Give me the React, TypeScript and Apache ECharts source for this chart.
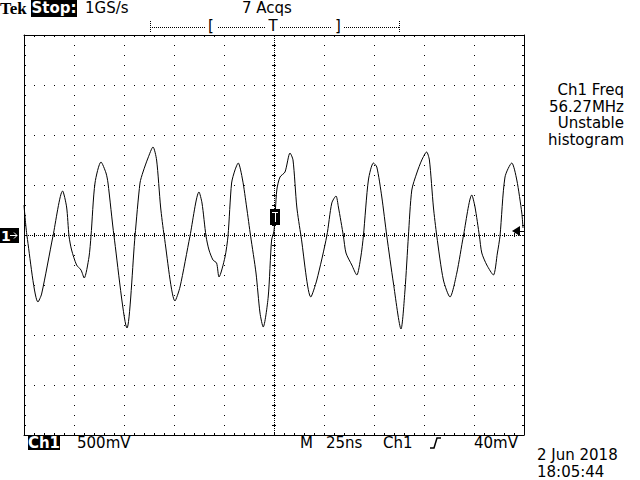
import React, { useEffect, useRef } from "react";
import * as echarts from "echarts";

// Time base: 25 ns/div, 10 divisions, trigger at centre
const timeNs = [
  -125, -123.5, -118, -116.2, -110.5, -105.7, -103.7, -102.5, -101.2, -98.7, -96.5, -94.9, -92.5, -91.5,
  -89.5, -86.5, -84, -83, -80, -73.5, -69.5, -67, -65.5, -63, -60.5, -58.7, -56.7, -54.9, -49.5, -47, -42,
  -37.5, -36, -34, -32.5, -30.5, -28.7, -27.5, -24.5, -23, -21.2, -19.5, -17.9, -15.7, -13.7, -11.7, -9, -7,
  -5.4, -2.9, -1.2, 0, 1.4, 3, 5.5, 8, 9.5, 11.4, 13.5, 18.4, 21.4, 26.4, 28.9, 31, 32.2, 34.7, 36, 38.9,
  41.4, 43.4, 44.7, 47.2, 49.7, 51.4, 53.9, 56.4, 59.7, 63.5, 65.5, 67.2, 68.9, 71.4, 73.9, 76.3, 77.7,
  79.7, 81.4, 84.7, 88, 91.4, 94.7, 98.9, 100.5, 102.7, 103.9, 106.4, 109.7, 111.7, 113, 115.5, 118.9,
  121.4, 123.9, 124.5,
];
// Channel 1 voltage, 500 mV/div
const ch1mV = [
  300, -10, -670, -590, -10, 440, 280, -10, -150, -300, -350, -430, -220, -10, 520, 730, 620, 520, -10, -930,
  -10, 520, 630, 770, 880, 750, 280, -10, -660, -520, -10, 430, 320, -10, -150, -250, -280, -420, -220, -10,
  520, 650, 720, 550, 280, -10, -380, -780, -920, -620, -50, 40, 450, 580, 630, 820, 750, 280, -10, -620,
  -450, -10, 320, 390, 280, -10, -180, -300, -400, -220, -10, 550, 720, 680, 380, -10, -480, -940, -550, -10,
  450, 620, 750, 830, 750, 280, -10, -450, -620, -380, -10, 400, 280, -10, -180, -300, -400, -180, -10, 580,
  720, 550, 220, 70,
];

const headerTexts = ["Tek", "Stop:", "1GS/s", "7 Acqs"];
const measureTexts = ["Ch1 Freq", "56.27MHz", "Unstable", "histogram"];
const footerTexts = ["Ch1", "500mV", "M", "25ns", "Ch1", "40mV"];
const dateTexts = ["2 Jun 2018", "18:05:44"];

const X_MIN = -125;
const X_MAX = 125;
const Y_MIN = -2000;
const Y_MAX = 2000;

const FONT = "DejaVu Sans";

export default function App() {
  const ref = useRef<HTMLDivElement>(null);

  useEffect(() => {
    if (!ref.current) return;
    const chart = echarts.init(ref.current, null, { renderer: "svg" });
    const black = "#000";
    const gridRect = { left: 24, top: 35, width: 500, height: 400 };

    const baseX = {
      type: "value" as const,
      min: X_MIN,
      max: X_MAX,
      interval: 25,
      axisLabel: { show: false },
      splitLine: { show: false },
    };
    const baseY = {
      type: "value" as const,
      min: Y_MIN,
      max: Y_MAX,
      interval: 500,
      axisLabel: { show: false },
      splitLine: { show: false },
    };
    const tick = (inside: boolean, len: number) => ({
      axisTick: { show: true, inside, length: len, lineStyle: { color: black, width: 1 } },
      minorTick: { show: true, splitNumber: 5, length: len, lineStyle: { color: black, width: 1 } },
    });

    const txt = (text: string, x: number, y: number, opts: any = {}) => ({
      type: "text",
      x,
      y,
      silent: true,
      style: {
        text,
        fill: opts.fill || black,
        font: opts.font || `15px "${FONT}"`,
        align: opts.align || "left",
        verticalAlign: "middle",
      },
      z: 100,
    });

    const option: any = {
      animation: false,
      backgroundColor: "#fff",
      grid: [
        { ...gridRect, show: false },
        { ...gridRect, show: false },
        { ...gridRect, show: false },
      ],
      xAxis: [
        {
          ...baseX,
          gridIndex: 0,
          position: "bottom",
          axisLine: { show: true, onZero: false, lineStyle: { color: black, width: 1 } },
          ...tick(true, 2),
          splitLine: { show: true, lineStyle: { color: black, width: 1, type: [1, 9] } },
        },
        {
          ...baseX,
          gridIndex: 0,
          position: "top",
          axisLine: { show: true, onZero: false, lineStyle: { color: black, width: 1 } },
          ...tick(true, 2),
        },
        {
          ...baseX,
          gridIndex: 1,
          position: "bottom",
          axisLine: { show: false, onZero: true },
          ...tick(true, 2),
        },
        {
          ...baseX,
          gridIndex: 2,
          position: "bottom",
          axisLine: { show: false, onZero: true },
          ...tick(false, 2),
        },
      ],
      yAxis: [
        {
          ...baseY,
          gridIndex: 0,
          position: "left",
          axisLine: { show: true, onZero: false, lineStyle: { color: black, width: 1 } },
          ...tick(true, 2),
          splitLine: { show: true, lineStyle: { color: black, width: 1, type: [1, 9] } },
        },
        {
          ...baseY,
          gridIndex: 0,
          position: "right",
          axisLine: { show: true, onZero: false, lineStyle: { color: black, width: 1 } },
          ...tick(true, 2),
        },
        {
          ...baseY,
          gridIndex: 1,
          position: "left",
          axisLine: { show: false, onZero: true },
          ...tick(true, 2),
        },
        {
          ...baseY,
          gridIndex: 2,
          position: "left",
          axisLine: { show: false, onZero: true },
          ...tick(false, 2),
        },
      ],
      series: [
        {
          type: "line",
          xAxisIndex: 0,
          yAxisIndex: 0,
          data: timeNs.map((t, i) => [t, ch1mV[i]]),
          showSymbol: false,
          smooth: 0.25,
          lineStyle: { color: black, width: 1 },
          z: 10,
          markLine: {
            silent: true,
            symbol: "none",
            label: { show: false },
            lineStyle: { color: black, width: 1, type: [1, 1] },
            emphasis: { disabled: true },
            data: [{ xAxis: 0 }, { yAxis: 0 }],
          },
        },
      ],
      graphic: [
        // header
        txt(headerTexts[0], 0, 8, { font: `bold 17px "Liberation Serif"` }),
        { type: "rect", shape: { x: 31, y: 0, width: 46, height: 17 }, style: { fill: black }, z: 99 },
        txt(headerTexts[1], 54, 8, { fill: "#fff", font: `bold 15px "${FONT}"`, align: "center" }),
        txt(headerTexts[2], 85, 8),
        txt(headerTexts[3], 267, 8, { align: "center" }),
        // trigger position bar
        { type: "line", shape: { x1: 150, y1: 27.5, x2: 400, y2: 27.5 }, style: { stroke: black, lineWidth: 1, lineDash: [1, 1] }, z: 99 },
        { type: "line", shape: { x1: 150.5, y1: 21, x2: 150.5, y2: 33 }, style: { stroke: black, lineWidth: 1, lineDash: [1, 1] }, z: 99 },
        { type: "line", shape: { x1: 399.5, y1: 21, x2: 399.5, y2: 33 }, style: { stroke: black, lineWidth: 1, lineDash: [1, 1] }, z: 99 },
        { type: "rect", shape: { x: 205, y: 19, width: 12, height: 16 }, style: { fill: "#fff" }, z: 99 },
        { type: "rect", shape: { x: 266, y: 19, width: 14, height: 16 }, style: { fill: "#fff" }, z: 99 },
        { type: "rect", shape: { x: 332, y: 19, width: 12, height: 16 }, style: { fill: "#fff" }, z: 99 },
        txt("[", 211, 26, { align: "center" }),
        txt("T", 273, 26, { align: "center" }),
        txt("]", 338, 26, { align: "center" }),
        // measurement readout
        txt(measureTexts[0], 624, 90, { align: "right" }),
        txt(measureTexts[1], 624, 106.5, { align: "right" }),
        txt(measureTexts[2], 624, 123, { align: "right" }),
        txt(measureTexts[3], 624, 139.5, { align: "right" }),
        // ground marker "1→"
        { type: "rect", shape: { x: 0, y: 228, width: 19, height: 15 }, style: { fill: black }, z: 99 },
        txt("1", 1, 235.5, { fill: "#fff", font: `bold 14px "${FONT}"` }),
        { type: "line", shape: { x1: 10, y1: 235.5, x2: 17, y2: 235.5 }, style: { stroke: "#fff", lineWidth: 1 }, z: 100 },
        { type: "polyline", shape: { points: [[14, 232.5], [17, 235.5], [14, 238.5]] }, style: { stroke: "#fff", lineWidth: 1, fill: null }, z: 100 },
        // trigger T marker
        { type: "rect", shape: { x: 270, y: 209, width: 10, height: 16 }, style: { fill: black }, z: 99 },
        { type: "line", shape: { x1: 272, y1: 212.5, x2: 278, y2: 212.5 }, style: { stroke: "#fff", lineWidth: 1 }, z: 100 },
        { type: "line", shape: { x1: 275.5, y1: 212, x2: 275.5, y2: 222 }, style: { stroke: "#fff", lineWidth: 1 }, z: 100 },
        // trigger level arrow
        { type: "polygon", shape: { points: [[512, 231], [520, 226], [520, 236]] }, style: { fill: black }, z: 99 },
        { type: "line", shape: { x1: 520, y1: 231.5, x2: 525, y2: 231.5 }, style: { stroke: black, lineWidth: 1 }, z: 99 },
        // footer
        { type: "rect", shape: { x: 28, y: 435, width: 32, height: 15 }, style: { fill: black }, z: 99 },
        txt(footerTexts[0], 44, 443, { fill: "#fff", font: `bold 15px "${FONT}"`, align: "center" }),
        txt(footerTexts[1], 77, 443),
        txt(footerTexts[2], 300, 443),
        txt(footerTexts[3], 326, 443),
        txt(footerTexts[4], 383, 443),
        { type: "polyline", shape: { points: [[430, 448], [434, 448], [437, 438], [441, 438]] }, style: { stroke: black, lineWidth: 1.5, fill: null }, z: 99 },
        txt(footerTexts[5], 474, 443),
        txt(dateTexts[0], 537, 455, { font: `15px "${FONT}"` }),
        txt(dateTexts[1], 537, 472, { font: `15px "${FONT}"` }),
      ],
    };
    chart.setOption(option);
    return () => chart.dispose();
  }, []);

  return (
    <div
      ref={ref}
      style={{ position: "fixed", left: 0, top: 0, width: 640, height: 480, background: "#fff" }}
    />
  );
}
